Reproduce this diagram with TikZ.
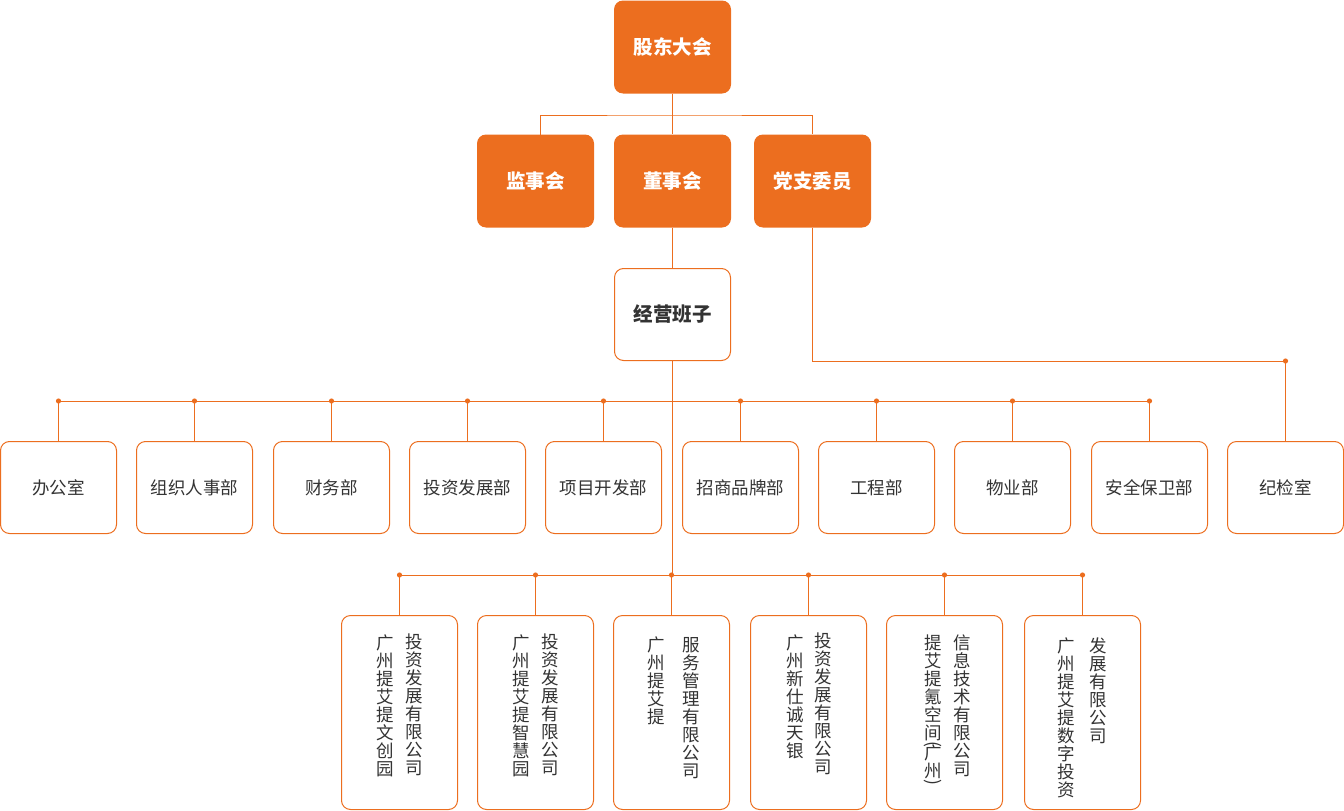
\documentclass[tikz,border=0pt]{standalone}
\usepackage{fontspec}
\newfontfamily\cjk{Noto Sans CJK SC}
\definecolor{org}{HTML}{EC6E1F}
\definecolor{txt}{HTML}{333333}
\tikzset{
  hd/.style={fill=org, rounded corners=9pt, minimum width=117pt, minimum height=93pt, inner sep=0pt, text=white, font=\cjk\bfseries\fontsize{19.5}{20}\selectfont},
  mgr/.style={draw=org, line width=1pt, fill=white, rounded corners=9pt, minimum width=116pt, minimum height=92pt, inner sep=0pt, text=txt, font=\cjk\bfseries\fontsize{19.5}{20}\selectfont},
  dept/.style={mgr, font=\cjk\fontsize{17.5}{18}\selectfont},
  co/.style={dept, minimum height=194pt},
  vt/.style={text=txt, font=\cjk\fontsize{17.5}{18}\selectfont, inner sep=0pt, align=center, anchor=north},
  ln/.style={draw=org, line width=1pt},
}
\newcommand\jdot[1]{\fill[org] (#1) circle (2.6pt);}
\newcommand\rp[1]{\rotatebox[origin=c]{-90}{#1}}
\begin{document}
\begin{tikzpicture}[x=1pt,y=-1pt]
\useasboundingbox (0,0) rectangle (1344,811);
% top
\node[hd] (sh) at (672.5,47) {股东大会};
\node[hd] (js) at (535.5,181) {监事会};
\node[hd] (ds) at (672.5,181) {董事会};
\node[hd] (dz) at (812.5,181) {党支委员};
\node[mgr] (jy) at (672.5,314.5) {经营班子};
% departments
\node[dept] (d1) at (58.5,487.5) {办公室};
\node[dept] (d2) at (194.5,487.5) {组织人事部};
\node[dept] (d3) at (331.5,487.5) {财务部};
\node[dept] (d4) at (467.5,487.5) {投资发展部};
\node[dept] (d5) at (603.5,487.5) {项目开发部};
\node[dept] (d6) at (740.5,487.5) {招商品牌部};
\node[dept] (d7) at (876.5,487.5) {工程部};
\node[dept] (d8) at (1012.5,487.5) {物业部};
\node[dept] (d9) at (1149.5,487.5) {安全保卫部};
\node[dept] (d10) at (1285.5,487.5) {纪检室};
% companies
\node[co] (c1) at (399.5,712.5) {};
\node[co] (c2) at (535.5,712.5) {};
\node[co] (c3) at (671.5,712.5) {};
\node[co] (c4) at (808.5,712.5) {};
\node[co] (c5) at (944.5,712.5) {};
\node[co] (c6) at (1082.5,712.5) {};
\node[vt] (c1a) at (385,635) {广\\州\\提\\艾\\提\\文\\创\\园};
\node[vt] (c1b) at (414,634) {投\\资\\发\\展\\有\\限\\公\\司};
\node[vt] (c2a) at (521.5,635) {广\\州\\提\\艾\\提\\智\\慧\\园};
\node[vt] (c2b) at (550.5,634) {投\\资\\发\\展\\有\\限\\公\\司};
\node[vt] (c3a) at (656.5,637) {广\\州\\提\\艾\\提};
\node[vt] (c3b) at (691.5,637) {服\\务\\管\\理\\有\\限\\公\\司};
\node[vt] (c4a) at (795,635) {广\\州\\新\\仕\\诚\\天\\银};
\node[vt] (c4b) at (823.5,633) {投\\资\\发\\展\\有\\限\\公\\司};
\node[vt] (c5a) at (933,635) {提\\艾\\提\\氪\\空\\间\\[-8pt]\rp{(}\\[-8pt]广\\州\\[-8pt]\rp{)}};
\node[vt] (c5b) at (962,635) {信\\息\\技\\术\\有\\限\\公\\司};
\node[vt] (c6a) at (1066.5,638) {广\\州\\提\\艾\\提\\数\\字\\投\\资};
\node[vt] (c6b) at (1098,638) {发\\展\\有\\限\\公\\司};
% coordinates
\coordinate (t) at (672.5,115);
\coordinate (jsn) at (540,134.5);
\coordinate (busA) at (672.5,401);
\coordinate (busB) at (672.5,575);
\coordinate (jx) at (1285.5,361);
% connectors
\draw[ln] (sh.south) -- (ds.north);
\draw[ln] (jsn) |- (t) -| (dz.north);
\draw[ln] (ds.south) -- (jy.north);
\draw[ln] (dz.south) |- (jx) -- (d10.north);
\jdot{jx}
\draw[ln] (jy.south) -- (busB);
\draw[ln] (d1.north |- busA) -- (d9.north |- busA);
\foreach \n in {d1,d2,d3,d4,d5,d6,d7,d8,d9}{
  \draw[ln] (\n.north) -- (\n.north |- busA);
  \jdot{\n.north |- busA}
}
\draw[ln] (c1.north |- busB) -- (c6.north |- busB);
\foreach \n in {c1,c2,c3,c4,c5,c6}{
  \draw[ln] (\n.north) -- (\n.north |- busB);
  \jdot{\n.north |- busB}
}
\end{tikzpicture}
\end{document}
